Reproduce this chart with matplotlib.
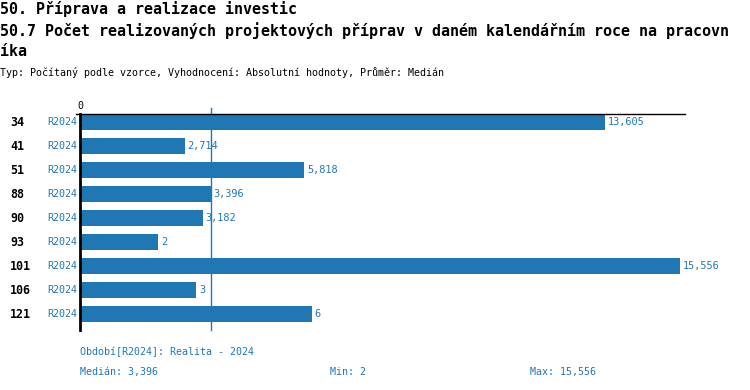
import matplotlib.pyplot as plt
from matplotlib.transforms import blended_transform_factory

# data
categories = ['34', '41', '51', '88', '90', '93', '101', '106', '121']
periods = ['R2024'] * 9
values = [13605, 2714, 5818, 3396, 3182, 2020, 15556, 3010, 6010]
value_labels = ['13,605', '2,714', '5,818', '3,396', '3,182', '2', '15,556', '3', '6']
median_value = 3396
summary = ['Medián: 3,396', 'Min: 2', 'Max: 15,556']

blue = '#1f77b4'
mono = 'DejaVu Sans Mono'
plt.rcParams['font.family'] = mono

W, H = 750, 390
fig = plt.figure(figsize=(W / 100, H / 100), dpi=100)

# axes placed in pixel terms: x 80..685, y 114..330
ax = fig.add_axes([80 / W, 1 - 330 / H, 605 / W, 216 / H])

ypos = list(range(len(categories)))
ax.barh(ypos, values, height=16 / 24, color=blue, zorder=2)
ax.set_xlim(0, 15686)
ax.set_ylim(len(categories) - 1 + 16 / 24, -8 / 24)

for s in ['right', 'bottom']:
    ax.spines[s].set_visible(False)
ax.spines['top'].set_linewidth(1)
ax.spines['left'].set_linewidth(2)
ax.set_yticks([])
ax.xaxis.tick_top()
ax.set_xticks([0])
ax.set_xticklabels(['0'], fontsize=7.2)
ax.tick_params(axis='x', length=0, pad=2)

# small tick at the top-left corner
ax.plot([-4 / 605, 0], [1, 1], transform=ax.transAxes, color='black', lw=1, clip_on=False)

# median line (behind the bars)
ax.axvline(median_value, ymin=0, ymax=1 + 6 / 216, color=blue, lw=1,
           clip_on=False, zorder=1)

tr = blended_transform_factory(ax.transAxes, ax.transData)
for y, cat, per, v, lab in zip(ypos, categories, periods, values, value_labels):
    ax.text(-70 / 605, y, cat, transform=tr, ha='left', va='center',
            fontsize=8.4, fontweight='bold', color='black')
    ax.text(-3 / 605, y, per, transform=tr, ha='right', va='center',
            fontsize=7.2, color=blue)
    ax.annotate(lab, (v, y), xytext=(2, 0), textcoords='offset points',
                ha='left', va='center', fontsize=7.4, color=blue)

# titles
fig.text(0, 1 - 9 / H, '50. Příprava a realizace investic', fontsize=10.8,
         fontweight='bold', va='center', ha='left')
fig.text(0, 1 - 31 / H,
         '50.7 Počet realizovaných projektových příprav v daném kalendářním roce na pracovn',
         fontsize=10.8, fontweight='bold', va='center', ha='left')
fig.text(0, 1 - 52 / H, 'íka', fontsize=10.8, fontweight='bold', va='center', ha='left')
fig.text(0, 1 - 73 / H,
         'Typ: Počítaný podle vzorce, Vyhodnocení: Absolutní hodnoty, Průměr: Medián',
         fontsize=7.2, va='center', ha='left')

# footer
fig.text(80 / W, 1 - 352 / H, 'Období[R2024]: Realita - 2024', fontsize=7.2,
         color=blue, va='center', ha='left')
for x, t in zip([80, 330, 530], summary):
    fig.text(x / W, 1 - 372 / H, t, fontsize=7.2, color=blue, va='center', ha='left')

fig.savefig('out.png', dpi=100)
